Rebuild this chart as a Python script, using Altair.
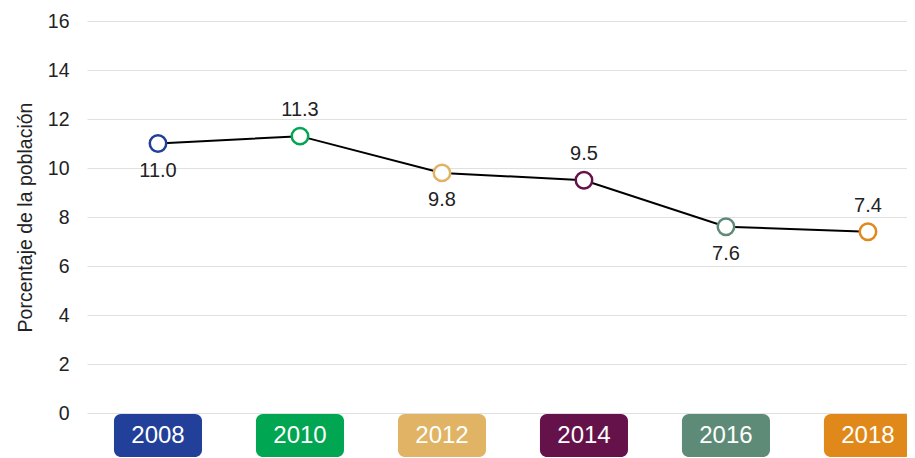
import altair as alt
import pandas as pd

years = [2008, 2010, 2012, 2014, 2016, 2018]
values = [11.0, 11.3, 9.8, 9.5, 7.6, 7.4]
labels = ["11.0", "11.3", "9.8", "9.5", "7.6", "7.4"]
label_pos = ["below", "above", "below", "above", "below", "above"]
colors = ["#22409A", "#00A651", "#E1B364", "#65124B", "#5E8B78", "#E0891A"]
y_ticks = [0, 2, 4, 6, 8, 10, 12, 14, 16]

df = pd.DataFrame({
    "year": years,
    "value": values,
    "label": labels,
    "pos": label_pos,
    "ystr": [str(y) for y in years],
})

FONT = "Liberation Sans"
xs = alt.Scale(domain=[2007, 2018.55], nice=False, zero=False)
ys = alt.Scale(domain=[0, 16], nice=False)
cs = alt.Scale(domain=[str(y) for y in years], range=colors)

base = alt.Chart(df)

line = base.mark_line(color="black", strokeWidth=2).encode(
    x=alt.X("year:Q", scale=xs, axis=None),
    y=alt.Y("value:Q", scale=ys, axis=alt.Axis(
        values=y_ticks, title="Porcentaje de la población", grid=True,
        gridColor="#e0e0e0", gridWidth=1, domain=False, ticks=False,
        labelFontSize=19.5, labelColor="#222222", labelFont=FONT, labelPadding=18,
        titleFontSize=19.5, titleFontWeight="normal", titleColor="#222222",
        titleFont=FONT, titlePadding=12)),
)

points = base.mark_point(shape="circle", filled=True, fill="white", size=270,
                         strokeWidth=2.5, opacity=1).encode(
    x=alt.X("year:Q", scale=xs),
    y=alt.Y("value:Q", scale=ys),
    stroke=alt.Stroke("ystr:N", scale=cs, legend=None),
)

above = base.transform_filter(alt.datum.pos == "above").mark_text(
    fontSize=20, font=FONT, color="#222222", dy=-26).encode(
    x=alt.X("year:Q", scale=xs), y=alt.Y("value:Q", scale=ys), text="label:N")
below = base.transform_filter(alt.datum.pos == "below").mark_text(
    fontSize=20, font=FONT, color="#222222", dy=27).encode(
    x=alt.X("year:Q", scale=xs), y=alt.Y("value:Q", scale=ys), text="label:N")

boxes = base.transform_calculate(
    x0="datum.year - 0.62", x1="datum.year + 0.62", b0="-0.04", b1="-1.8"
).mark_rect(cornerRadius=7, clip=False).encode(
    x=alt.X("x0:Q", scale=xs), x2="x1:Q",
    y=alt.Y("b0:Q", scale=ys), y2="b1:Q",
    fill=alt.Fill("ystr:N", scale=cs, legend=None),
)
box_text = base.transform_calculate(bm="-0.95").mark_text(
    fontSize=24, font=FONT, color="white", baseline="middle", clip=False).encode(
    x=alt.X("year:Q", scale=xs), y=alt.Y("bm:Q", scale=ys), text="ystr:N")

chart = alt.layer(line, boxes, box_text, points, above, below).properties(
    width=820, height=392,
    autosize=alt.AutoSizeParams(type="none"),
    padding={"left": 79, "top": 13, "right": 0, "bottom": 44},
).configure_view(stroke=None)

chart.save("out.html", embed_options={"renderer": "svg", "actions": False})
